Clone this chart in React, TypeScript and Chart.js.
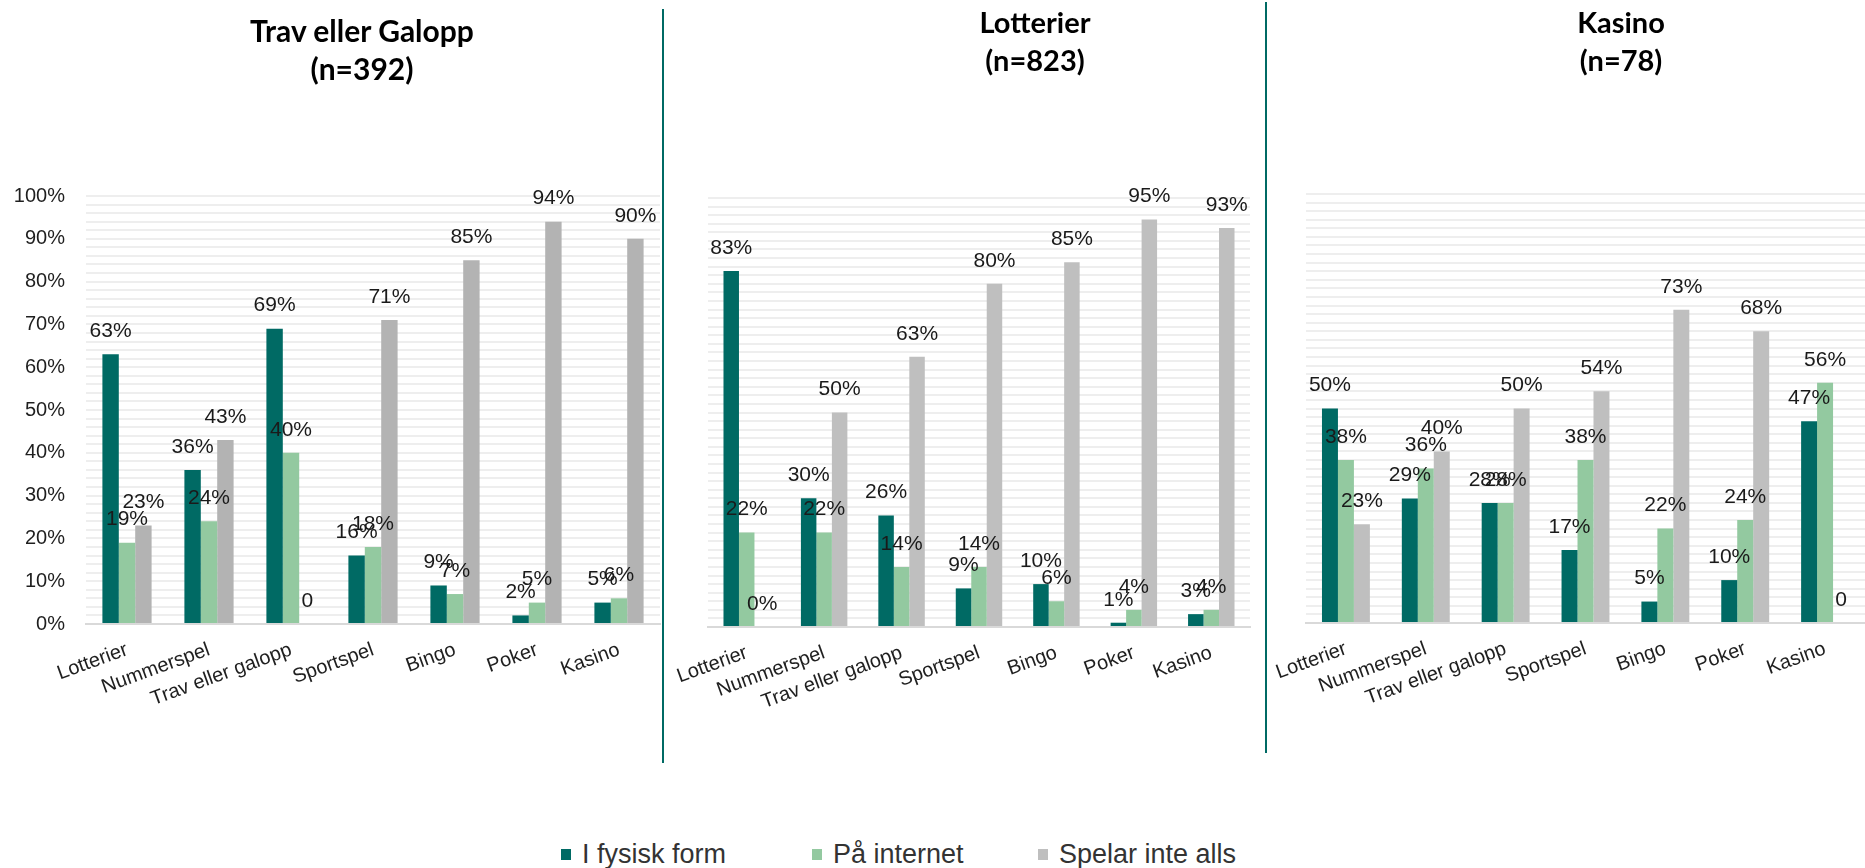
import React, { useEffect, useRef } from 'react';
import { Chart, registerables } from 'chart.js';

Chart.register(...registerables);

// ---------- data ----------
const categories = ['Lotterier', 'Nummerspel', 'Trav eller galopp', 'Sportspel', 'Bingo', 'Poker', 'Kasino'];
const seriesNames = ['I fysisk form', 'På internet', 'Spelar inte alls'];

const travTitle = ['Trav eller Galopp', '(n=392)'];
const travFysisk = [63, 36, 69, 16, 9, 2, 5];
const travInternet = [19, 24, 40, 18, 7, 5, 6];
const travInteAlls = [23, 43, 0, 71, 85, 94, 90];

const lottTitle = ['Lotterier', '(n=823)'];
const lottFysisk = [83, 30, 26, 9, 10, 1, 3];
const lottInternet = [22, 22, 14, 14, 6, 4, 4];
const lottInteAlls = [0, 50, 63, 80, 85, 95, 93];

const kasTitle = ['Kasino', '(n=78)'];
const kasFysisk = [50, 29, 28, 17, 5, 10, 47];
const kasInternet = [38, 36, 28, 38, 22, 24, 56];
const kasInteAlls = [23, 40, 50, 54, 73, 68, 0];

const zeroLabels = ['0', '0%', '0'];

// ---------- styles ----------
const DARK = '#006a64';
const LIGHT = '#93c9a0';
const GRAY_A = '#b3b3b3';
const GRAY_B = '#bfbfbf';
const FONT = "'Liberation Sans', Arial, sans-serif";

const valueLabels = {
  id: 'valueLabels',
  afterDatasetsDraw(chart: any, _args: any, opts: any) {
    const ctx = chart.ctx;
    ctx.save();
    ctx.font = `21px ${FONT}`;
    ctx.fillStyle = '#1a1a1a';
    ctx.textAlign = 'center';
    ctx.textBaseline = 'middle';
    chart.data.datasets.forEach((ds: any, i: number) => {
      const meta = chart.getDatasetMeta(i);
      meta.data.forEach((el: any, j: number) => {
        const v = ds.data[j] as number;
        const text = v === 0 ? opts.zeroLabel : `${v}%`;
        ctx.fillText(text, el.x, el.y - 23);
      });
    });
    ctx.restore();
  },
};

type PanelProps = {
  left: number;
  width: number;
  height: number;
  chartTop: number;
  chartBottom: number;
  yWidth: number;
  rightPad: number;
  showY: boolean;
  a: number[];
  b: number[];
  c: number[];
  gray: string;
  zeroLabel: string;
};

function BarPanel(p: PanelProps) {
  const ref = useRef<HTMLCanvasElement>(null);
  useEffect(() => {
    const chart = new Chart(ref.current as HTMLCanvasElement, {
      type: 'bar',
      data: {
        labels: categories,
        datasets: [
          { label: seriesNames[0], data: p.a, backgroundColor: DARK },
          { label: seriesNames[1], data: p.b, backgroundColor: LIGHT },
          { label: seriesNames[2], data: p.c, backgroundColor: p.gray },
        ],
      },
      options: {
        responsive: false,
        maintainAspectRatio: false,
        animation: false,
        devicePixelRatio: 1,
        layout: { padding: { top: p.chartTop, bottom: 0, left: 0, right: p.rightPad } },
        datasets: { bar: { categoryPercentage: 0.6, barPercentage: 1 } },
        plugins: {
          legend: { display: false },
          title: { display: false },
          tooltip: { enabled: false },
          valueLabels: { zeroLabel: p.zeroLabel },
        } as any,
        scales: {
          x: {
            grid: { display: false, drawTicks: false },
            border: { display: true, color: '#d9d9d9', width: 2 },
            ticks: {
              font: { family: FONT, size: 20 },
              color: '#1f1f1f',
              minRotation: 20,
              maxRotation: 20,
              autoSkip: false,
              padding: 14,
            },
            afterFit: (s: any) => {
              s.height = p.height - p.chartBottom;
              s.paddingLeft = 0;
              s.paddingRight = 0;
            },
          },
          y: {
            min: 0,
            max: 100,
            grid: {
              drawTicks: false,
              lineWidth: 2,
              color: (ctx: any) => (ctx.tick && ctx.tick.value === 0 ? 'rgba(0,0,0,0)' : '#eeeeee'),
            },
            border: { display: false },
            ticks: {
              display: p.showY,
              stepSize: 2,
              autoSkip: false,
              padding: 21,
              font: { family: FONT, size: 20 },
              color: '#1f1f1f',
              callback: (v: any) => (Number(v) % 10 === 0 ? `${v}%` : ''),
            },
            afterFit: (s: any) => {
              s.width = p.yWidth;
              s.paddingTop = 0;
              s.paddingBottom = 0;
            },
          },
        },
      } as any,
      plugins: [valueLabels as any],
    });
    return () => chart.destroy();
  }, []);
  return (
    <canvas
      ref={ref}
      width={p.width}
      height={p.height}
      style={{ position: 'absolute', left: p.left, top: 0, width: p.width, height: p.height }}
    />
  );
}

function Title({ lines, center, top, size }: { lines: string[]; center: number; top: number; size: number }) {
  return (
    <div
      style={{
        position: 'absolute',
        left: center - 200,
        top,
        width: 400,
        textAlign: 'center',
        fontFamily: 'Lato, "Open Sans", sans-serif',
        fontWeight: 700,
        fontSize: size,
        lineHeight: '38px',
        color: '#000',
      }}
    >
      {lines.map((l) => (
        <div key={l}>{l}</div>
      ))}
    </div>
  );
}

function LegendItem({ left, color, text }: { left: number; color: string; text: string }) {
  return (
    <div
      style={{
        position: 'absolute',
        left,
        top: 839,
        height: 30,
        display: 'flex',
        alignItems: 'center',
        fontFamily: FONT,
        fontSize: 27,
        lineHeight: '30px',
        color: '#333',
        whiteSpace: 'nowrap',
      }}
    >
      <span style={{ display: 'inline-block', width: 10, height: 11, background: color, marginRight: 11 }} />
      <span>{text}</span>
    </div>
  );
}

export default function App() {
  return (
    <div
      style={{
        position: 'absolute',
        left: 0,
        top: 0,
        width: 1865,
        height: 868,
        overflow: 'hidden',
        background: '#fff',
      }}
    >
      <BarPanel
        left={0}
        width={662}
        height={720}
        chartTop={196}
        chartBottom={624}
        yWidth={86}
        rightPad={2}
        showY={true}
        a={travFysisk}
        b={travInternet}
        c={travInteAlls}
        gray={GRAY_A}
        zeroLabel={zeroLabels[0]}
      />
      <BarPanel
        left={664}
        width={600}
        height={720}
        chartTop={198}
        chartBottom={627}
        yWidth={44}
        rightPad={14}
        showY={false}
        a={lottFysisk}
        b={lottInternet}
        c={lottInteAlls}
        gray={GRAY_B}
        zeroLabel={zeroLabels[1]}
      />
      <BarPanel
        left={1268}
        width={597}
        height={720}
        chartTop={194}
        chartBottom={623}
        yWidth={38}
        rightPad={0}
        showY={false}
        a={kasFysisk}
        b={kasInternet}
        c={kasInteAlls}
        gray={GRAY_B}
        zeroLabel={zeroLabels[2]}
      />
      <div style={{ position: 'absolute', left: 662, top: 9, width: 2, height: 754, background: DARK }} />
      <div style={{ position: 'absolute', left: 1265, top: 2, width: 2, height: 751, background: DARK }} />
      <Title lines={travTitle} center={362} top={11} size={30} />
      <Title lines={lottTitle} center={1035} top={3} size={29} />
      <Title lines={kasTitle} center={1621} top={3} size={29} />
      <LegendItem left={561} color={DARK} text={seriesNames[0]} />
      <LegendItem left={812} color={LIGHT} text={seriesNames[1]} />
      <LegendItem left={1038} color={GRAY_B} text={seriesNames[2]} />
    </div>
  );
}
